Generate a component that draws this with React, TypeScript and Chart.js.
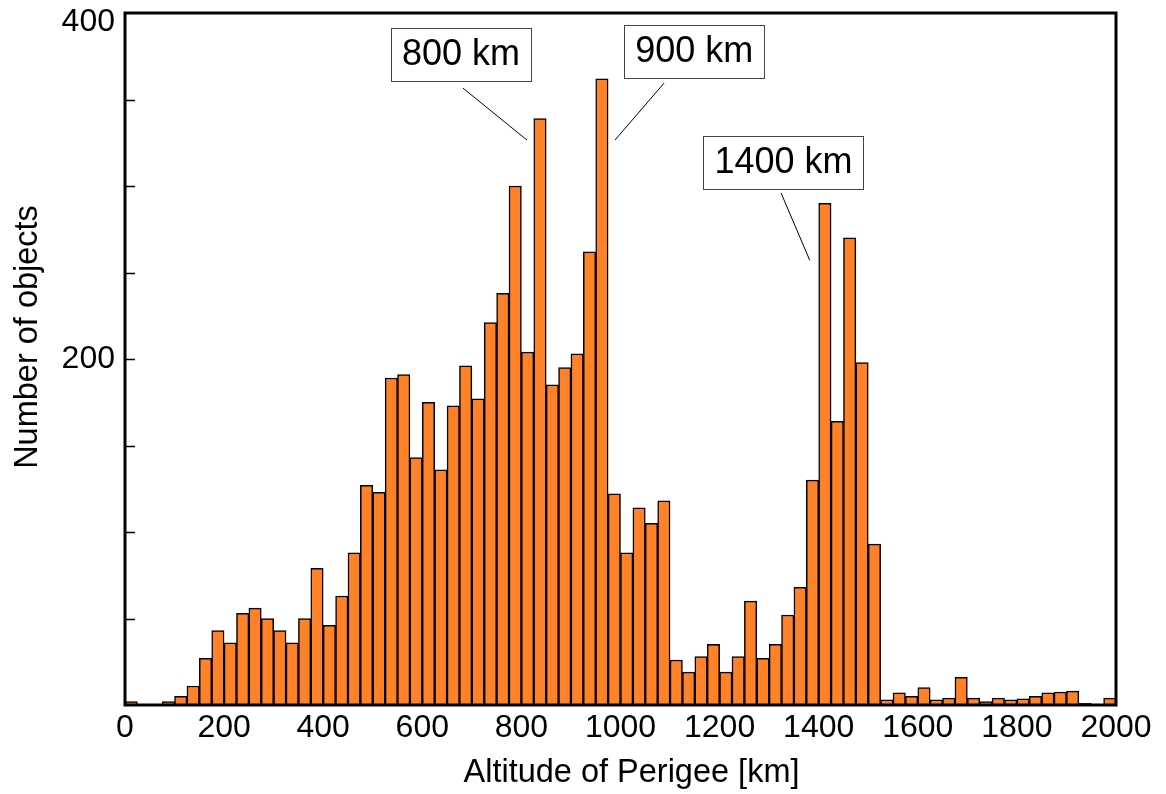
import React, { useEffect, useRef } from "react";
import { Chart, registerables } from "chart.js";

Chart.register(...registerables);

// Histogram bins: start of each 25 km bin (0 .. 1975)
const BIN_WIDTH = 25;
const binStarts: number[] = Array.from({ length: 80 }, (_, i) => i * BIN_WIDTH);

// Number of objects per bin
const counts: number[] = [
  2, 0, 0, 2, 5, 11, 27, 43, 36, 53,
  56, 50, 43, 36, 50, 79, 46, 63, 88, 127,
  123, 189, 191, 143, 175, 136, 173, 196, 177, 221,
  238, 300, 204, 339, 185, 195, 203, 262, 362, 122,
  88, 114, 105, 118, 26, 19, 28, 35, 19, 28,
  60, 27, 35, 52, 68, 130, 290, 164, 270, 198,
  93, 3, 7, 5, 10, 3, 4, 16, 4, 2,
  4, 3, 3.5, 5, 7, 7.5, 8, 1, 0, 4,
];

const xTickLabels: number[] = [0, 200, 400, 600, 800, 1000, 1200, 1400, 1600, 1800, 2000];
const yTickLabels: number[] = [200, 400];

const xTitle = "Altitude of Perigee [km]";
const yTitle = "Number of objects";

// Annotations: label, box centre (km, count), leader line from -> to (km, count)
const annoLabels: string[] = ["800 km", "900 km", "1400 km"];
const annoBox: [number, number][] = [[678, 376], [1149, 378], [1329, 313.6]];
const annoLineFrom: [number, number][] = [[682, 356.6], [1088, 359.5], [1324, 296]];
const annoLineTo: [number, number][] = [[811, 326.6], [989, 326.6], [1382, 257]];

const FONT = "'Liberation Sans', Arial, Helvetica, sans-serif";

const framePlugin = {
  id: "frameAndAnno",
  afterDraw(chart: any) {
    const { ctx, chartArea: ca, scales } = chart;
    const xs = scales.x;
    const ys = scales.y;
    ctx.save();
    // inner y ticks every 50
    ctx.strokeStyle = "#000";
    ctx.lineWidth = 1.5;
    for (let v = 50; v < 400; v += 50) {
      const py = Math.round(ys.getPixelForValue(v)) + 0.5;
      ctx.beginPath();
      ctx.moveTo(ca.left, py);
      ctx.lineTo(ca.left + 10, py);
      ctx.stroke();
    }
    // frame
    ctx.lineWidth = 3;
    ctx.strokeStyle = "#000";
    ctx.strokeRect(ca.left, ca.top, ca.right - ca.left, ca.bottom - ca.top);

    // axis titles
    ctx.fillStyle = "#000";
    ctx.font = `32.5px ${FONT}`;
    ctx.textAlign = "center";
    ctx.textBaseline = "middle";
    ctx.fillText(xTitle, (ca.left + ca.right) / 2 + 11, ca.bottom + 68);
    ctx.save();
    ctx.translate(ca.left - 97, (ca.top + ca.bottom) / 2 - 22);
    ctx.rotate(-Math.PI / 2);
    ctx.fillText(yTitle, 0, 0);
    ctx.restore();

    // annotations
    ctx.font = `36px ${FONT}`;
    ctx.textAlign = "center";
    ctx.textBaseline = "middle";
    annoLabels.forEach((lab, i) => {
      const fx = xs.getPixelForValue(annoLineFrom[i][0]);
      const fy = ys.getPixelForValue(annoLineFrom[i][1]);
      const tx = xs.getPixelForValue(annoLineTo[i][0]);
      const ty = ys.getPixelForValue(annoLineTo[i][1]);
      ctx.strokeStyle = "#000";
      ctx.lineWidth = 1;
      ctx.beginPath();
      ctx.moveTo(fx, fy);
      ctx.lineTo(tx, ty);
      ctx.stroke();

      const cx = xs.getPixelForValue(annoBox[i][0]);
      const cy = ys.getPixelForValue(annoBox[i][1]);
      const w = ctx.measureText(lab).width + 22;
      const h = 53;
      ctx.fillStyle = "#fff";
      ctx.fillRect(cx - w / 2, cy - h / 2, w, h);
      ctx.strokeStyle = "#444";
      ctx.lineWidth = 1;
      ctx.strokeRect(Math.round(cx - w / 2) + 0.5, Math.round(cy - h / 2) + 0.5, Math.round(w), h);
      ctx.fillStyle = "#000";
      ctx.fillText(lab, cx, cy + 1);
    });
    ctx.restore();
  },
};

export default function App() {
  const ref = useRef<HTMLCanvasElement | null>(null);
  useEffect(() => {
    if (!ref.current) return;
    const data = binStarts.map((s, i) => ({ x: s + BIN_WIDTH / 2, y: counts[i] }));
    const chart = new Chart(ref.current, {
      type: "bar",
      data: {
        datasets: [
          {
            data,
            backgroundColor: "#ff8128",
            borderColor: "#000",
            borderWidth: 1.5,
            barPercentage: 1,
            categoryPercentage: 1,
          },
        ],
      },
      options: {
        animation: false,
        responsive: false,
        maintainAspectRatio: false,
        layout: { padding: { top: 13, right: 50, left: 0, bottom: 0 } },
        plugins: { legend: { display: false }, tooltip: { enabled: false } },
        scales: {
          x: {
            type: "linear",
            min: 0,
            max: 2000,
            offset: false,
            grid: { display: false, drawTicks: false },
            border: { display: false },
            afterFit(scale: any) {
              scale.height = 89;
            },
            afterBuildTicks(scale: any) {
              scale.ticks = xTickLabels.map((v) => ({ value: v }));
            },
            ticks: {
              color: "#000",
              font: { family: FONT, size: 32 },
              padding: 4,
              maxRotation: 0,
              autoSkip: false,
              callback: (v: any) => String(v),
            },
            title: { display: false },
          },
          y: {
            min: 0,
            max: 400,
            grid: { display: false, drawTicks: false },
            border: { display: false },
            afterFit(scale: any) {
              scale.width = 125;
              scale.paddingTop = 0;
              scale.paddingBottom = 0;
            },
            afterBuildTicks(scale: any) {
              scale.ticks = yTickLabels.map((v) => ({ value: v }));
            },
            ticks: {
              color: "#000",
              font: { family: FONT, size: 32, lineHeight: 0.55 },
              padding: 10,
              callback: (v: any) => (v === 400 ? ["", "400"] : String(v)),
            },
            title: { display: false },
          },
        },
      },
      plugins: [framePlugin],
    } as any);
    return () => chart.destroy();
  }, []);
  return (
    <div style={{ position: "fixed", left: 0, top: 0, width: 1166, height: 794, background: "#fff" }}>
      <canvas ref={ref} width={1166} height={794} style={{ width: 1166, height: 794, display: "block" }} />
    </div>
  );
}
